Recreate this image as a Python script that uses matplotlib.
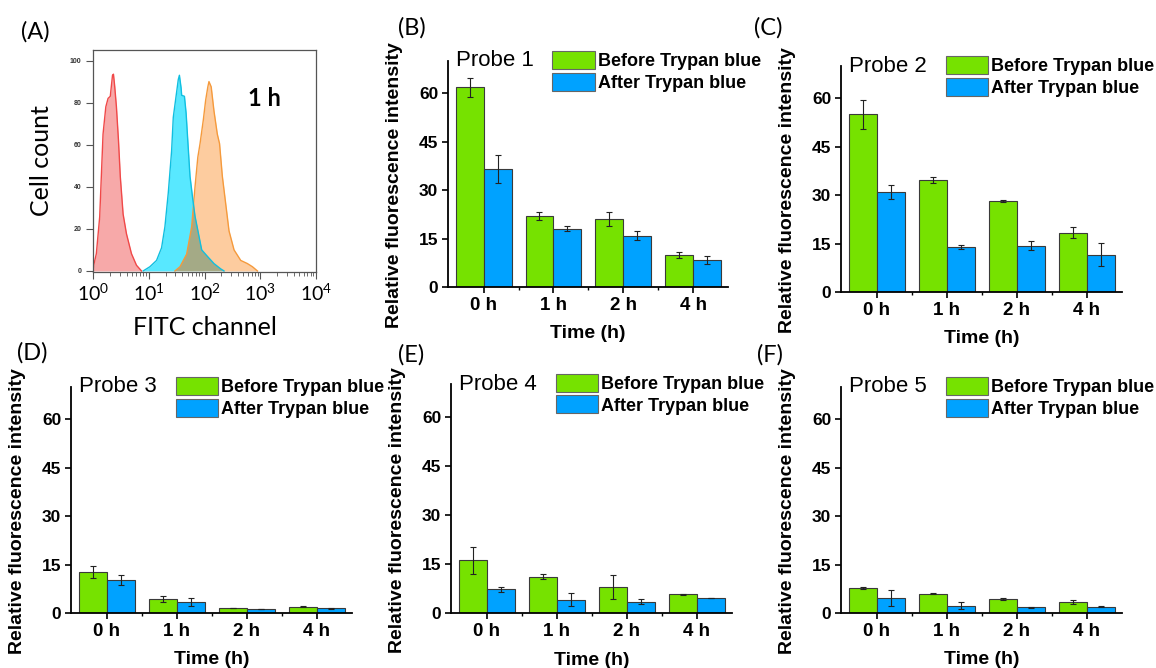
import matplotlib.pyplot as plt
import numpy as np
from matplotlib.patches import Patch, Polygon
from matplotlib.ticker import LogLocator, NullFormatter

plt.rcParams['font.family'] = 'Liberation Sans'
plt.rcParams['mathtext.fontset'] = 'custom'
plt.rcParams['mathtext.rm'] = 'Lato'
plt.rcParams['mathtext.it'] = 'Lato'

# ---- panel A: flow cytometry histograms (log10 of FITC, cell count) ----
red_logx = [0.0, 0.012, 0.06, 0.12, 0.18, 0.23, 0.27, 0.31, 0.35, 0.367, 0.39, 0.42,
            0.457, 0.49, 0.54, 0.60, 0.69, 0.78, 0.87]
red_count = [0, 2.7, 8.2, 25.7, 65, 78, 82, 83, 93, 93.5, 87.5, 78,
             62, 44.7, 27, 17.7, 8.2, 2.7, 0]
cyan_logx = [0.90, 1.02, 1.14, 1.23, 1.29, 1.35, 1.41, 1.44, 1.49, 1.53, 1.55, 1.58, 1.59,
             1.64, 1.67, 1.70, 1.74, 1.79, 1.83, 1.89, 1.95, 2.05, 2.17, 2.29, 2.35]
cyan_count = [0, 2, 5, 11, 21, 37, 57, 73, 83, 91, 93, 87, 83.5,
              83, 75, 62, 45, 34, 26, 18, 10, 7, 3.5, 1, 0]
orange_logx = [1.47, 1.56, 1.68, 1.77, 1.83, 1.88, 1.92, 1.98, 2.02, 2.06, 2.08, 2.12,
               2.17, 2.23, 2.27, 2.32, 2.38, 2.44, 2.53, 2.65, 2.77, 2.86, 2.95]
orange_count = [0, 2, 8, 21, 40, 54, 60.5, 72, 81, 87.5, 90, 87.5,
                76, 65, 60.5, 45, 32, 19, 10, 5, 3.5, 2, 0]

# ---- panels B-F: bar charts ----
times = ['0 h', '1 h', '2 h', '4 h']
probes = ['Probe 1', 'Probe 2', 'Probe 3', 'Probe 4', 'Probe 5']
before_mean = [[61.8, 22.0, 21.1, 9.9],
               [55.0, 34.7, 28.1, 18.3],
               [12.7, 4.3, 1.6, 1.95],
               [16.1, 11.1, 7.9, 5.7],
               [7.7, 6.0, 4.4, 3.4]]
before_err = [[2.8, 1.2, 2.1, 1.0],
              [4.5, 1.0, 0.3, 1.7],
              [1.85, 0.9, 0.1, 0.1],
              [4.05, 0.7, 3.6, 0.1],
              [0.3, 0.2, 0.4, 0.7]]
after_mean = [[36.6, 18.1, 15.9, 8.4],
              [31.0, 14.0, 14.4, 11.5],
              [10.2, 3.5, 1.2, 1.4],
              [7.2, 4.1, 3.5, 4.6],
              [4.7, 2.3, 1.75, 2.0]]
after_err = [[4.4, 0.8, 1.4, 1.2],
             [2.1, 0.6, 1.5, 3.6],
             [1.5, 1.2, 0.05, 0.1],
             [0.9, 2.1, 0.9, 0.05],
             [2.5, 1.2, 0.05, 0.1]]
legend_labels = ['Before Trypan blue', 'After Trypan blue']

green = '#76e200'
blue = '#00a2ff'

W, H = 1156, 668


def rect(x0, y0, x1, y1):
    return [x0 / W, 1 - y1 / H, (x1 - x0) / W, (y1 - y0) / H]


fig = plt.figure(figsize=(11.56, 6.68), dpi=100)

# panel A
ax = fig.add_axes(rect(93, 50, 316, 272))
ax.set_xscale('log')
rx, cx, ox = [10 ** np.array(v) for v in (red_logx, cyan_logx, orange_logx)]
ax.fill_between(rx, red_count, color='#f7a9a9', lw=0)
ax.fill_between(cx, cyan_count, color='#58e8ff', lw=0)
ax.fill_between(ox, orange_count, color='#fdcc9f', lw=0)
overlap = ax.fill_between(cx, cyan_count, color='#a4aa86', lw=0)
clip = Polygon(np.column_stack([ox, orange_count]), closed=True, transform=ax.transData)
overlap.set_clip_path(clip)
ax.plot(rx, red_count, color='#f04848', lw=1)
ax.plot(ox, orange_count, color='#f59a3c', lw=1)
ax.plot(cx, cyan_count, color='#10bfe0', lw=1)
ax.set_xlim(1, 1e4)
ax.set_ylim(-0.5, 105)
ax.set_yticks([0, 20, 40, 60, 80, 100])
ax.set_yticklabels(['0', '20', '40', '60', '80', '100'], fontsize=5, fontweight='bold', color='#333333')
ax.set_xticks([1, 10, 100, 1000, 10000])
ax.set_xticklabels(['$10^{0}$', '$10^{1}$', '$10^{2}$', '$10^{3}$', '$10^{4}$'], fontsize=14)
ax.xaxis.set_minor_locator(LogLocator(base=10, subs=np.arange(2, 10), numticks=20))
ax.xaxis.set_minor_formatter(NullFormatter())
ax.tick_params(direction='out', length=5, width=0.8, color='#555555')
ax.tick_params(which='minor', direction='out', length=3, width=0.6, color='#555555')
for s in ax.spines.values():
    s.set_color('#555555')
    s.set_linewidth(0.9)
ax.set_ylabel('Cell count', fontsize=18, family='Lato')
ax.yaxis.set_label_coords(-0.18, 0.5)
ax.set_xlabel('FITC channel', fontsize=18, family='Lato')
ax.xaxis.set_label_coords(0.5, -0.2)
ax.text(0.77, 0.78, '1 h', transform=ax.transAxes, fontsize=17, fontweight='bold',
        family='Lato', ha='center', va='center')

# panels B-F
boxes = [(448, 61, 728, 287), (841, 66, 1122, 292), (71, 387, 352, 613),
         (451, 384, 732, 613), (841, 387, 1122, 613)]
x = np.arange(len(times))
ekw = dict(ecolor='#222222', elinewidth=0.8, capsize=2.3, capthick=0.8)
for i, box in enumerate(boxes):
    ax = fig.add_axes(rect(*box))
    ax.bar(x - 0.2, before_mean[i], 0.4, yerr=before_err[i], color=green,
           edgecolor='#3a3a3a', lw=0.8, error_kw=ekw)
    ax.bar(x + 0.2, after_mean[i], 0.4, yerr=after_err[i], color=blue,
           edgecolor='#3a3a3a', lw=0.8, error_kw=ekw)
    ax.set_xlim(-0.51, 3.5)
    ax.set_ylim(0, 70)
    ax.spines['top'].set_visible(False)
    ax.spines['right'].set_visible(False)
    ax.spines['left'].set_linewidth(1.3)
    ax.spines['bottom'].set_linewidth(1.3)
    ax.set_xticks(x)
    ax.set_xticklabels(times, fontsize=13.5, fontweight='bold')
    ax.set_xticks([0.5, 1.5, 2.5], minor=True)
    ax.set_yticks([0, 15, 30, 45, 60])
    ax.set_yticklabels(['0', '15', '30', '45', '60'], fontsize=12.5, fontweight='bold')
    ax.tick_params(direction='out', length=4, width=1.2, pad=3)
    ax.tick_params(which='minor', direction='out', length=2, width=1)
    ax.set_ylabel('Relative fluorescence intensity', fontsize=14, fontweight='bold')
    ax.yaxis.set_label_coords(-0.16, 0.45)
    ax.set_xlabel('Time (h)', fontsize=14, fontweight='bold')
    ax.xaxis.set_label_coords(0.5, -0.17)
    ax.text(0.028, 1.0, probes[i], transform=ax.transAxes, fontsize=16,
            ha='left', va='center')
    handles = [Patch(facecolor=green, edgecolor='#666666', lw=0.8),
               Patch(facecolor=blue, edgecolor='#666666', lw=0.8)]
    ax.legend(handles, legend_labels, loc='upper left', bbox_to_anchor=(0.373, 1.045),
              frameon=False, prop=dict(size=13, weight='bold'), borderpad=0,
              borderaxespad=0, handlelength=2.33, handleheight=1.15,
              labelspacing=0.15, handletextpad=0.2)

# panel letters
for lab, px, py in [('(A)', 35, 32), ('(B)', 412, 28), ('(C)', 768, 28),
                    ('(D)', 32, 353), ('(E)', 411, 355), ('(F)', 770, 355)]:
    fig.text(px / W, 1 - py / H, lab, fontsize=17, family='Lato', ha='center', va='center')

fig.savefig('out.png', dpi=100)
